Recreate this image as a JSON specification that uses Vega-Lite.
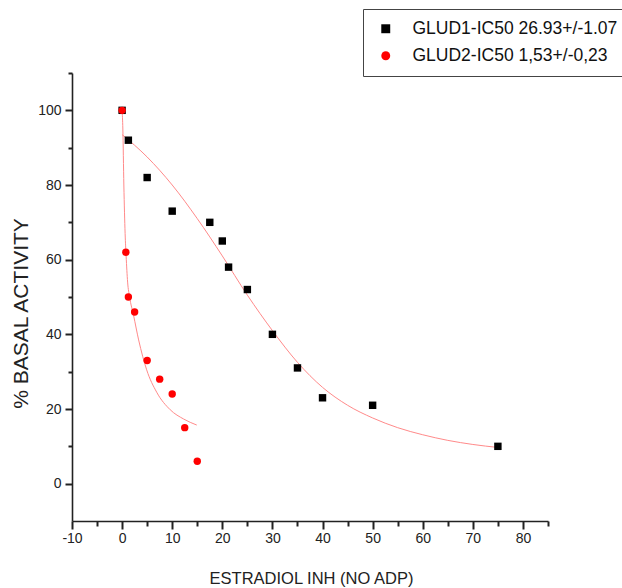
{
  "$schema": "https://vega.github.io/schema/vega-lite/v6.json",
  "width": 476,
  "height": 448,
  "autosize": {"type": "none"},
  "padding": {"left": 72, "top": 73, "right": 74, "bottom": 67},
  "background": "white",
  "config": {
    "view": {"stroke": null},
    "font": "Liberation Sans",
    "axis": {
      "grid": false,
      "labelColor": "#222",
      "titleColor": "#222",
      "labelFont": "Liberation Sans",
      "titleFont": "Liberation Sans",
      "labelFontSize": 14,
      "titleFontWeight": "normal"
    }
  },
  "datasets": {
    "points": [
      {"x": 0, "y": 100, "series": "GLUD1-IC50 26.93+/-1.07"},
      {"x": 1.25, "y": 92, "series": "GLUD1-IC50 26.93+/-1.07"},
      {"x": 5, "y": 82, "series": "GLUD1-IC50 26.93+/-1.07"},
      {"x": 10, "y": 73, "series": "GLUD1-IC50 26.93+/-1.07"},
      {"x": 17.5, "y": 70, "series": "GLUD1-IC50 26.93+/-1.07"},
      {"x": 20, "y": 65, "series": "GLUD1-IC50 26.93+/-1.07"},
      {"x": 21.25, "y": 58, "series": "GLUD1-IC50 26.93+/-1.07"},
      {"x": 25, "y": 52, "series": "GLUD1-IC50 26.93+/-1.07"},
      {"x": 30, "y": 40, "series": "GLUD1-IC50 26.93+/-1.07"},
      {"x": 35, "y": 31, "series": "GLUD1-IC50 26.93+/-1.07"},
      {"x": 40, "y": 23, "series": "GLUD1-IC50 26.93+/-1.07"},
      {"x": 50, "y": 21, "series": "GLUD1-IC50 26.93+/-1.07"},
      {"x": 75, "y": 10, "series": "GLUD1-IC50 26.93+/-1.07"},
      {"x": 0, "y": 100, "series": "GLUD2-IC50 1,53+/-0,23"},
      {"x": 0.75, "y": 62, "series": "GLUD2-IC50 1,53+/-0,23"},
      {"x": 1.25, "y": 50, "series": "GLUD2-IC50 1,53+/-0,23"},
      {"x": 2.5, "y": 46, "series": "GLUD2-IC50 1,53+/-0,23"},
      {"x": 5, "y": 33, "series": "GLUD2-IC50 1,53+/-0,23"},
      {"x": 7.5, "y": 28, "series": "GLUD2-IC50 1,53+/-0,23"},
      {"x": 10, "y": 24, "series": "GLUD2-IC50 1,53+/-0,23"},
      {"x": 12.5, "y": 15, "series": "GLUD2-IC50 1,53+/-0,23"},
      {"x": 15, "y": 6, "series": "GLUD2-IC50 1,53+/-0,23"}
    ],
    "fits": [
      {"x": 0, "y": 93.5, "fit": "GLUD1"},
      {"x": 5, "y": 87.5, "fit": "GLUD1"},
      {"x": 10, "y": 80, "fit": "GLUD1"},
      {"x": 15, "y": 71, "fit": "GLUD1"},
      {"x": 20, "y": 61, "fit": "GLUD1"},
      {"x": 25, "y": 50.5, "fit": "GLUD1"},
      {"x": 30, "y": 41, "fit": "GLUD1"},
      {"x": 35, "y": 32.5, "fit": "GLUD1"},
      {"x": 40, "y": 25.8, "fit": "GLUD1"},
      {"x": 45, "y": 21, "fit": "GLUD1"},
      {"x": 50, "y": 17.6, "fit": "GLUD1"},
      {"x": 55, "y": 15, "fit": "GLUD1"},
      {"x": 60, "y": 13.1, "fit": "GLUD1"},
      {"x": 65, "y": 11.6, "fit": "GLUD1"},
      {"x": 70, "y": 10.5, "fit": "GLUD1"},
      {"x": 75, "y": 9.7, "fit": "GLUD1"},
      {"x": 0, "y": 100, "fit": "GLUD2"},
      {"x": 0.15, "y": 95, "fit": "GLUD2"},
      {"x": 0.35, "y": 80, "fit": "GLUD2"},
      {"x": 0.6, "y": 67, "fit": "GLUD2"},
      {"x": 0.8, "y": 61, "fit": "GLUD2"},
      {"x": 1.1, "y": 54, "fit": "GLUD2"},
      {"x": 1.5, "y": 50, "fit": "GLUD2"},
      {"x": 2.3, "y": 45, "fit": "GLUD2"},
      {"x": 3.3, "y": 38.5, "fit": "GLUD2"},
      {"x": 4.9, "y": 30.5, "fit": "GLUD2"},
      {"x": 6.9, "y": 24.5, "fit": "GLUD2"},
      {"x": 9.6, "y": 19.8, "fit": "GLUD2"},
      {"x": 12.3, "y": 17.3, "fit": "GLUD2"},
      {"x": 14.9, "y": 15.7, "fit": "GLUD2"}
    ]
  },
  "resolve": {"axis": {"x": "independent", "y": "independent"}},
  "layer": [
    {
      "data": {"name": "fits"},
      "mark": {"type": "line", "interpolate": "monotone", "color": "#ff8a8a", "strokeWidth": 1},
      "encoding": {
        "x": {
          "field": "x", "type": "quantitative",
          "scale": {"domain": [-10, 85], "nice": false, "zero": false},
          "axis": {
            "orient": "bottom",
            "title": "ESTRADIOL INH (NO ADP)",
            "values": [-10, 0, 10, 20, 30, 40, 50, 60, 70, 80],
            "labelExpr": "'' + datum.value",
            "domainColor": "#222",
            "domainWidth": 1.6,
            "tickSize": 8,
            "tickColor": "#222",
            "tickWidth": 2,
            "labelPadding": 2,
            "labelFlush": false,
            "labelOverlap": false,
            "titleFontSize": 16.5,
            "titleX": 239,
            "titleY": 62,
            "titleBaseline": "alphabetic",
            "titleAlign": "center"
          }
        },
        "y": {
          "field": "y", "type": "quantitative",
          "scale": {"domain": [-10, 110], "nice": false, "zero": false},
          "axis": {
            "orient": "left",
            "title": "% BASAL ACTIVITY",
            "values": [0, 20, 40, 60, 80, 100],
            "labelExpr": "'' + datum.value",
            "domainColor": "#222",
            "domainWidth": 1.6,
            "tickSize": 7,
            "tickColor": "#222",
            "tickWidth": 2,
            "labelPadding": 4,
            "labelFlush": false,
            "labelOverlap": false,
            "titleFontSize": 21,
            "titleAngle": -90,
            "titleX": -45,
            "titleY": 240,
            "titleBaseline": "alphabetic",
            "titleAlign": "center"
          }
        },
        "detail": {"field": "fit", "type": "nominal"}
      }
    },
    {
      "data": {"name": "points"},
      "mark": {"type": "point", "filled": true, "opacity": 1, "size": 55},
      "encoding": {
        "x": {
          "field": "x", "type": "quantitative",
          "axis": {
            "orient": "bottom",
            "title": null,
            "values": [-5, 5, 15, 25, 35, 45, 55, 65, 75, 85],
            "labels": false,
            "domain": false,
            "tickColor": "#222",
            "tickWidth": 2,
            "tickSize": 5
          }
        },
        "y": {
          "field": "y", "type": "quantitative",
          "axis": {
            "orient": "left",
            "title": null,
            "values": [10, 30, 50, 70, 90, 110],
            "labels": false,
            "domain": false,
            "tickColor": "#222",
            "tickWidth": 2,
            "tickSize": 4
          }
        },
        "color": {
          "field": "series", "type": "nominal",
          "scale": {"domain": ["GLUD1-IC50 26.93+/-1.07", "GLUD2-IC50 1,53+/-0,23"], "range": ["#000000", "#ff0000"]},
          "legend": {
            "title": null,
            "orient": "none",
            "legendX": 291,
            "legendY": -64,
            "strokeColor": "#444",
            "fillColor": "white",
            "padding": 11,
            "rowPadding": 8,
            "symbolOffset": 3,
            "labelOffset": 18,
            "symbolSize": 80,
            "labelFont": "Liberation Sans",
            "labelFontSize": 17.5,
            "labelColor": "#111",
            "labelLimit": 400
          }
        },
        "shape": {
          "field": "series", "type": "nominal",
          "scale": {"domain": ["GLUD1-IC50 26.93+/-1.07", "GLUD2-IC50 1,53+/-0,23"], "range": ["square", "circle"]},
          "legend": null
        }
      }
    }
  ]
}
